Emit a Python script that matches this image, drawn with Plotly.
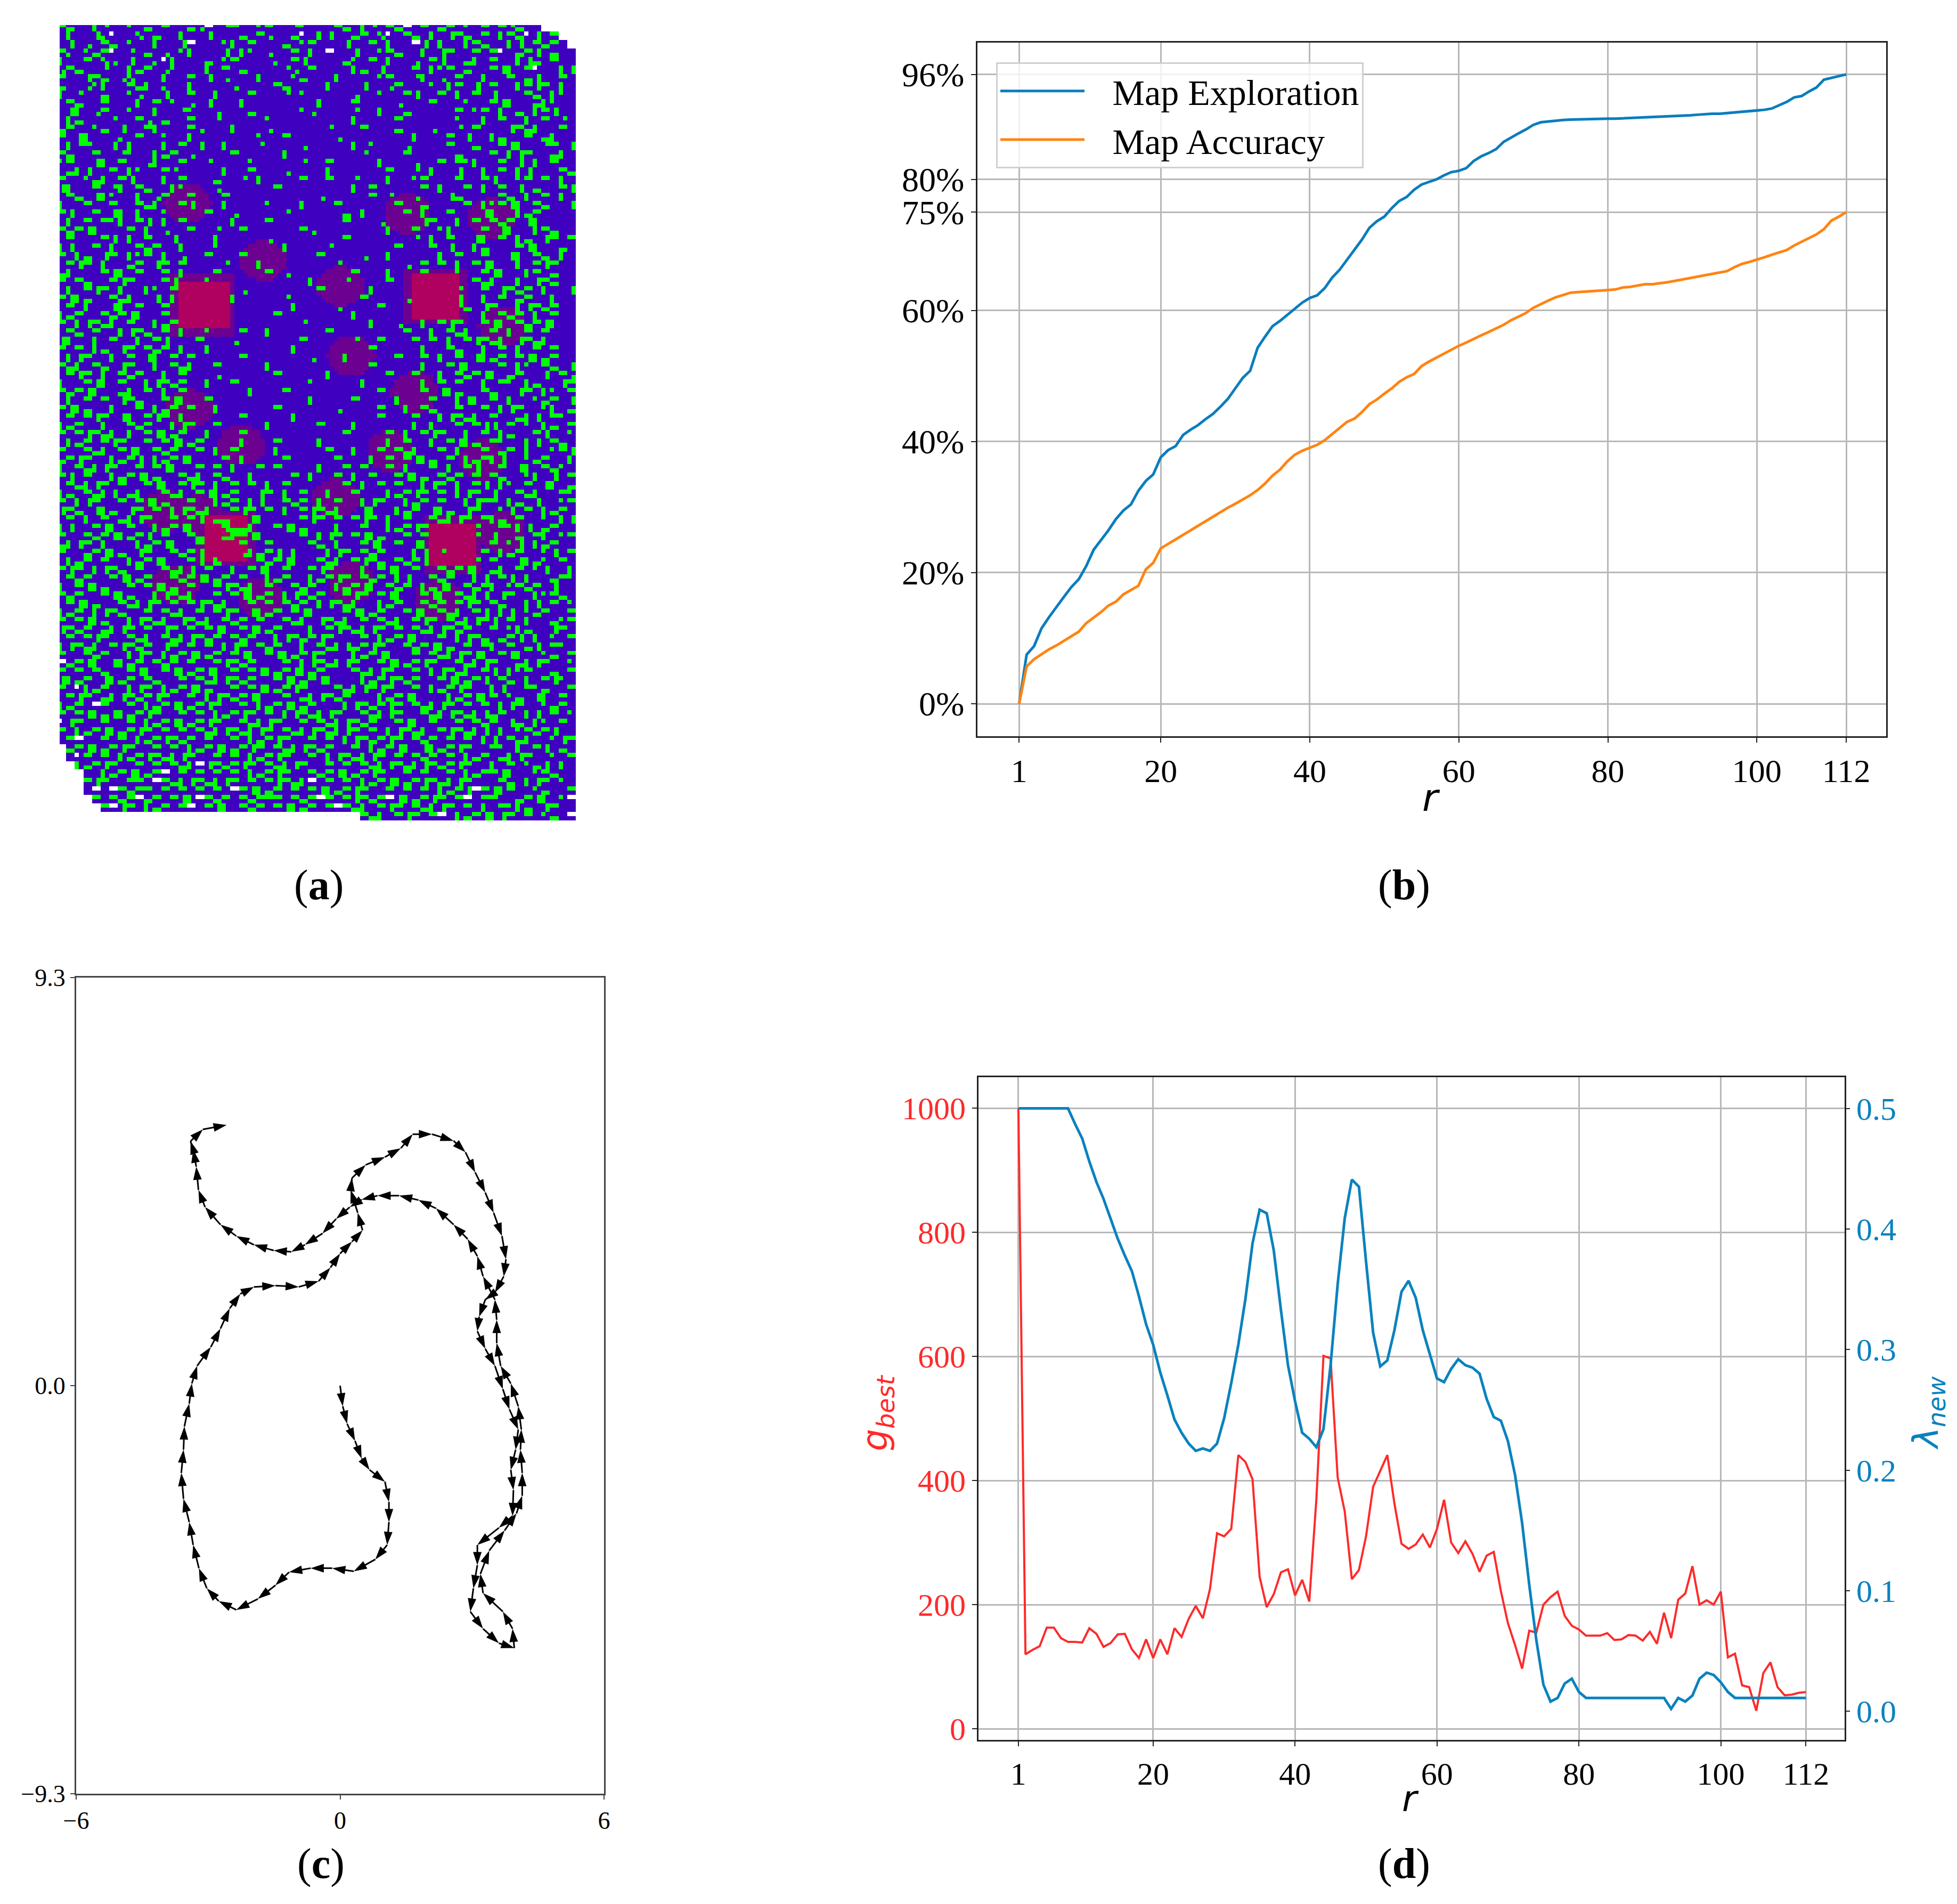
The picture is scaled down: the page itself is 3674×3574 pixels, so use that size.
import plotly.graph_objects as go

W, H = 3674, 3574
PAGE_MARGIN = 8  # the browser page sits the figure 8 px in from the corner

# ---------- panel (a): occupancy map, one hex digit per 2x2 block of cells ----------
# bits: 8 upper-left, 4 upper-right, 2 lower-left, 1 lower-right; w / x = white cell(s)
map_rows = [
"C300A4008030C0031x04C008C0048000C30A40C3x0C03C080C0C4300C0C3",
"0A0052w0090300A00500030C1003w0A5003C09w0C30A05C30C0AC3w50C0A",
"05010C30800A005x0008A0C000308C000500C0A00x50A00AC300A50C3C00",
"C2083Cw04030108A00050A80100C0A0x005008C300A05C00C0Cw03C50300",
"A00C09105002wA000308C000020C50000380C0A0010C5003A0C00A530C00",
"1C300400A3C018000A0C030000410C0000A305000C0A8C0300C5A0Cw00A5",
"C005C3019000A00C0501000A00083000A00008C004A010C00A00C03500C0",
"30018A00C3A0200A000010000C30000A0005001C00080AC050C00AC5C0A0",
"A04003008100500C00A000C00040800000100800C500C0A0C05000C30A80",
"0C300C000A0C080105000A00000000A000C00001000C000800C5A003A800",
"05A01C00800A0048001000300000810000400A00300000C08C0A030AC500",
"0A3000400C10300C004000008000000000A0000C000000800A0C00A0C040",
"3C00830500CA000C1000A00010000004000C000300010040C0005C3A00C0",
"C05A00020C00800A0000000800C00000100000000A000C0500A300C03A00",
"0A4C0050A000A0C0500A00040000100000A0800010000C00300C5A004C05",
"C300C004800A3C010000C00000A0000000040000C000003000C0A5C003A0",
"8C005A0C001A00C0040000800000400C00000A000100C0C8A00C050A0C00",
"03A500C0A800C400000A00C00010000A000000C0040A00500A0C0A5000C3",
"C0083A0C5000A0C00030040A0000C00C004000A008C000C00C5008C0C0A0",
"5A00C04A0C300A80001000000C00000000A0C00000C0A00C0A0C050300C5",
"0C305A800A01C00C000C0000000000100000C04001000530000C30A0C0A0",
"A00C00C00C3A00C5000A00008000A000C000000C0030000C0A8C5A0C3005",
"C500C05A0A0080000C00100000400000030A0000C0A00C0005A00A3C0000",
"0A0C0C8A0C50A0C00000A000C00000000C000100005C00A0C0C3C05A0000",
"C3C5A000C0A0100C00400C000000C100000000A00C008A000C05A00AC300",
"0C000C50A0C0050000A00000100000000C000000040A0C005A0C0A305C0C",
"A500C0A00C3C00A00080000000A000040000000C000C0500A3000C5A0030",
"C0A305C0A8C0A0100C000C00000000C0000100A00000A0C00C005A0C30A0",
"0C5C0A003C05C0C00004000A000000004000000010C0C0A0C5A00A0C5C00",
"3A000C5A0C00C0A000C00000C010000000C000A000C300A00C5A00AC0300",
"C0C300C5C000C5000A00000000000A00040000C0000C0A00C3A00A05C300",
"0A0C5C0A00A80C000C000100000000C00000A00000A0C0C00C05C3C0A005",
"C5A300C3A0050A000000A00000400000000C0000100C0A500A0C03C00A00",
"0C0A005A0C00C0000C000000000A000010000C000A00C0C305C00A5C3C00",
"A3C00C3C5A00C0A0008000000C00000000A000000C0C00A00A0C3C0A0C00",
"C0A5C3A0C00A3C0C00A00000000040000000A00100A0C5C00C5A0C3C5A00",
"0C30C00A5C30C0A000000C00A000000C00000000C00A0C3A00C0A0C0C000",
"5A00A0C00A0C5000C00010000000C00000400C000C0C0A0C5C3A05C3A000",
"C0C0A305C0C3C0A00A000000000A00000000C00000A00C300A0C0A0C0C00",
"0A5C00A0C05A0C0C00000C00000001000A00000C00C0A0C05A3C0C5A3C00",
"C3A0C305C00A0C3A00C00000A00000000000C00000A00C5A00C0A0C0C0A0",
"0C5C0A0C3C00A0C0001000000C00000A000000C00C00A0C3C5C03A0C5A00",
"A00C5A0C00A5C3C00A00C00000000800000A000000A0C0C00A05C0C0C300",
"C3C5A003A0C0A0C0000000A000C0000000000C0000C05A300C3C0A3C0A00",
"0A0C0C05C300C5A00C00000000000A0000C0000A000C00A5A0C5C0C0C500",
"C5A300A00C0A3C0C00A000000C00000010000C00A0C300C00C0A3C5A0C00",
"0C0C5C05A0C5C0A000000C00000A000000000C000C00A5C3A0C00A0C3000",
"A3C00A00C3C00A5C00C00000A00000C000A000000A0A00C0C5A35C00C000",
"C0C5C3A0A0C5A3C00A000C00000000000C0000C0A0C5C00A0C0C0A0C3A50",
"0A3C0C5C00C0C5A3C0000A000C0000A0000000A0C00A0C5A305C0A0C0000",
"C00C3A0C5A0C3C00C0A0C0000A00000C00A00C0C3A00C0A00C0C5A3C0000",
"3C5C00A3C50A3C5A000C0A0000C00000C000A0C0C5A30C0A3C0C0C5A0000",
"A0C3A5C00C0C5A00C0C0A00C0C0000A00C0C00C0A00C0A0C50A5C3C0C000",
"C50C00A3C5A300C3A0C300A0000C0A00C0A0C00C5A30C3C0C0C3C0A0C500",
"0C3A5C0C00C5A0C5C0A0C0C0A0C000000C0A0C0C00A5C0A0C5A0C5C3A000",
"A30C3A503A00C3A0C5A3C005C0A0C00A00C000A3C5C0C0A5C0C3A0C0C500",
"C0A5C00C0C5A300C00A3C0A500C3C0A0C00A5C00A3C0C00A5C0A3C5C0000",
"5C305A305C0C0A5C3A00C5C0C0A0C5C3A005A00A3C05A305C0C3C0C0A300",
"0C0A0C03A5C00C0C5A0C3C5A0000C5C0C0C5C0A0C00C3A5C0C5A3C0A0000",
"A500C5A0C00A3C5A00C0C3A00C5A3000A00C00A3C5C0A5C3C0C3A0C0C5C0",
"C00C3C5A3C50C00C3A5C0C5A0000C0A5C0C5A300C0C0A0A5C0C3C5A0C000",
"3A5C0A000A3C5A00C0C3C000C0000C30A00C5A0C05A3C0C3A0C00A3C0000",
"C003C5A305C00C3C5A00C0A3C50A000A5C0C3C000A5C0C5A0C5C3A5C0C00",
"0A3C0C00A3C5A00C5C3C000C3C5A00C3A0C5C30C3C5A00C3C0C0A3C5A000",
"C5C0A5C30C00C3A50C00A0C5A0C00C5C000A0C5A0C00C3C5A0C5A3C00C00",
"0C3C00C5A3C00C3C5A3C0C00A3C00A3C5C0C3C0A500C3C00A5C3A00C0000",
"A0C5A300C0C5A30C00C5C3A0C00C3C00A3C5A0C3C0A35A0C3C00C5A30000",
"C3C00C5A300A5C3A00C0C5A3C0A5C3C00C5C0C5A00C5A0C3A5C00C00C000",
"0C5A300C3A5C0C0C5C3A00C0C0C3C0A5C3A00A3C00C3C0C5C00A3C5A0000",
"A3C0A5C300C0C3A0C0C5C05A3C0C5A000C5A3C00C5A0C3A0C5C00C300000",
"C0C5A300A5C3A05C3A0C3C0C00C3A05C3A0C0C3A0C5C0C3A5C3C00000C00",
"5C3C03A5C0C05C0C0C5A0C5A3C000A0C5C3A5C0C0C3A5C3C00A3C0000000",
"0C0C5C00C3A0C3A5C3C0C3C00A5C3C5C000C0A3C5A00C0A5C3A5C0C00000",
"A5C3A0C5C3C05C0C0C0A5C0C3C00A0C3A53C5C00C3C5A30C0C3A50000C00",
"C00C3C00A5C0A3C5A3C0C5A0C5A3C5C000A3C5A00C0C3A5C5A0C000C0000",
"x3C5A05A3C0C3C0C00C5C3C000C0A5C3A5C00C5A3C5C00C3A5C0000x0000",
"C0C0C300C5A0C5A3C5A0C0C5A3C5A3C000C3A5C00C0A5C3A0C0C0C300000",
"5A3C05A3C0C300C0C3A5C3C00C5A3C5A000A3C5C3C00C5A3C5A000000000",
"C0wA3C00A5C0A3C5A300C0C5A3C5C000C3A5C5C00C0A3C5C00C0C0000000",
"0C5C03A5C3C5C00C0A5C3C5A00C03A5C3C000A3C5A000A3C5A3C00000000",
"A3C0xC00C0A3C5A3C5C00C0A3C5A3C000A5C3C5C0C3A5C0C0C0A00000000",
"C0C5A35A3C5C00C0C0A3C5C0C0A5C3A5C00C3A5C00C3A5C3A5C000000000",
"w5C00C00C0A3C5A3C5C00C3A5C00C0C3A5C3C00C5A0C00C0C3Cw00000000",
"C0A3C5A3C5C0C0C0C3A5C3A5C0C3A5C3A5C0C0A5C3A0C5C3A5C00C0A0000",
"0Cx00C0C0A3C5C3C0C00C0A3C5C00C0C0A5C3C5C0C3C0C0C0A3C5Cw00000",
"A3C5A3C5C00C0C0A3C5A3C5C0C3A5C3C00C0A3C5A05A3C5C00C000000000",
"C0wC0C0A3C5C3A5C00C0C0A3C5C00C0A5C3A5C0C0C3C0C0A3C5A3x000000",
"x5A3C5C00C0C0C3Ax5C3C5C0C3A5C00C0C0C3A5C3A5C3C5C00C0C0000000",
"C0C00A3C5A3Cx0C0C0C0C0A3C5C00C3C5A3C5C00C0C00C0A3C5C3A5w0000",
"0CwC5C00CC0xC3A5C3A5C0C0C5C3Ax0C0C0A3C5A3C5C3A5C00C0xC0C0000",
"A3C0x0xC3CC0C0C0C0C0xC5A3C0C0C5A3C5C00C0C0C0A3C5xC5A3C000000",
"C0C5C0C3Cx3C0C5AxC3C0C3CCC0C3CxC0C5C3Cx5A3C5C0Cx0C0C0C0xC500",
"0C3A0Cx5C0A3C0Cx0C5A0C3C0C5A3C0CxC3A0C5C0C3A5C0C0A3C0x5C3A00",
"C5A3C0C3C0x5C3A0C0C3Cx0C5C0C0A5C3C0C3A0C5C0Cx0A3C5C0C3A0C000",
]
# right-hand ten blocks of rows 40 to 93, replacing the tails above
map_tails = [
"0C0A80C305", "A03C0050C1", "0C80A3005C", "3005C0A80C", "C0A0083C05", "0A5C008A03", "C003A50C80", "50C080A30C",
"0A300C5008", "C800A50C30", "03C0A008C5", "A50083C00A", "0C05A0C380", "C3008A050C", "0A80C05A03", "500C3A00C8",
"C0A305008C", "0850C0A3C0", "A30C0080A5", "0C8A503C00", "50030CA08C", "C0850A3C00", "0A3C00850C", "C005A380C0",
"3A0C08500A", "0C50A003C8", "A08C3C0500", "05C00A8C30", "C300A50C08", "0A5083C00C", "50C0A0038C", "C08A3005C0",
"03C50A080C", "A0C0350C80", "0C5A00830C", "C003A5C008", "50A8C0030C", "0C30A0C580", "A500C8300C", "C08305A0C0",
"0A5C0083C0", "3C00A50C08", "C0530A80C0", "0A08C3C500", "50C3A0085C", "C80A0C5030", "03A5C0080C", "A0C08350A0",
"C5A008C300", "0C30A5C080", "5AC008300C", "C003C5A08x", "0C8A305C00", "A5C0C0830x",
]

# columns (in 2-cell blocks) blanked at each end of a row
blank_right = {0: 56, 1: 58, 2: 59}
blank_left = {85: 1, 86: 1, 87: 2, 88: 3, 89: 3, 90: 3, 91: 4, 92: 5, 93: 35}

# red obstacle patches: centre column, centre row, half width, half height (in cells)
obstacle_big = [(33.8, 66.5, 5.8, 5.5), (87.5, 64.5, 5.8, 5.2), (39, 121.5, 5.3, 5.3), (91.5, 123, 5.3, 5.3)]
obstacle_dim = [(30, 42.5), (81, 45), (100.5, 46), (47.7, 56), (65.5, 62), (103, 71.5), (68, 78.5),
                (82.8, 87), (30.3, 91), (42.5, 99.6), (77, 101), (98.5, 103), (64.5, 112), (25, 115),
                (103, 120), (27.5, 132.4), (68, 132), (47, 135.7), (88, 136), (32.5, 116)]
# green cells lying on the patches: row, first column, run length
green_on_patch = [(117, 36, 4), (118, 38, 2), (119, 39, 5), (120, 40, 4), (121, 38, 3), (122, 42, 2), (126, 36, 1),
                  (125, 43, 1), (124, 89, 1), (72, 34, 1)]

# ---------- panel (b) ----------
rounds = list(range(1, 113))
map_exploration = [0, 7.5, 8.8, 11.5, 13.2, 14.8, 16.3, 17.8, 19, 21, 23.5, 25, 26.5, 28.2, 29.5, 30.4, 32.5, 34, 35, 37.6,
    38.7, 39.3, 41, 41.8, 42.5, 43.4, 44.2, 45.3, 46.5, 48.1, 49.7, 50.8, 54.3, 56, 57.6, 58.4, 59.3, 60.2, 61.2, 61.9,
    62.3, 63.4, 65, 66.2, 67.7, 69.2, 70.8, 72.6, 73.6, 74.3, 75.6, 76.7, 77.3, 78.4, 79.2, 79.6, 80, 80.6, 81.1, 81.3,
    81.7, 82.8, 83.5, 84, 84.6, 85.7, 86.4, 87, 87.6, 88.3, 88.7, 88.85, 89, 89.05, 89.1, 89.15, 89.2, 89.2, 89.2, 89.25,
    89.25, 89.3, 89.35, 89.35, 89.4, 89.45, 89.45, 89.5, 89.6, 89.65, 89.75, 89.85, 89.95, 90, 90, 90.1, 90.15, 90.3,
    90.35, 90.4, 90.6, 90.8, 91.3, 91.8, 92.5, 92.7, 93.4, 94, 95.2, 95.5, 95.8, 96]
map_accuracy = [0, 5.7, 6.8, 7.6, 8.3, 8.9, 9.6, 10.2, 11, 12.3, 13.1, 14, 15, 15.6, 16.7, 17.4, 18, 20.5, 21.5, 23.7,
    24.4, 25, 25.7, 26.4, 27.1, 27.8, 28.6, 29.3, 29.9, 30.5, 31.1, 31.8, 32.6, 33.6, 34.8, 35.7, 37, 38, 38.6, 39,
    39.5, 40.2, 41.1, 42.1, 43, 43.5, 44.5, 45.7, 46.4, 47.3, 48.1, 49.1, 49.8, 50.3, 51.5, 52.2, 52.8, 53.5, 54, 54.6,
    55.1, 55.7, 56.2, 56.7, 57.2, 57.8, 58.5, 59, 59.6, 60.4, 61, 61.5, 62, 62.4, 62.7, 62.8, 62.85, 62.9, 63, 63.1,
    63.2, 63.5, 63.6, 63.8, 64, 64, 64.1, 64.3, 64.5, 64.7, 65, 65.2, 65.3, 65.5, 65.7, 66, 66.6, 67.1, 67.4, 67.7,
    68.1, 68.5, 68.9, 69.2, 69.9, 70.5, 71, 71.6, 72.4, 73.7, 74.3, 75]

# ---------- panel (d) ----------
g_best = [1000, 120, 127, 133, 163, 163, 146, 140, 140, 139, 162, 153, 132, 138, 152, 153, 128, 114, 144, 114, 144, 120,
    162, 148, 177, 198, 178, 225, 315, 310, 322, 441, 430, 402, 245, 196, 217, 252, 257, 215, 240, 205, 370, 601, 597,
    405, 350, 241, 256, 310, 390, 415, 441, 363, 298, 290, 297, 313, 292, 322, 369, 300, 283, 302, 282, 253, 279, 285,
    222, 170, 135, 97, 158, 155, 200, 212, 221, 182, 166, 160, 150, 150, 150, 154, 143, 144, 151, 150, 142, 156, 137,
    187, 146, 208, 218, 262, 200, 207, 200, 221, 115, 121, 70, 67, 29, 90, 107, 67, 54, 55, 58, 59]
lambda_new = [.5, .5, .5, .5, .5, .5, .5, .5, .487, .475, .456, .439, .425, .409, .392, .378, .365, .344, .321, .304,
    .281, .262, .242, .231, .222, .216, .218, .216, .222, .243, .272, .304, .342, .388, .416, .413, .382, .333, .287,
    .257, .231, .226, .219, .234, .287, .354, .409, .441, .435, .373, .314, .286, .291, .316, .348, .357, .343, .316,
    .295, .276, .273, .284, .292, .287, .285, .280, .259, .244, .241, .224, .196, .156, .105, .059, .022, .008, .011,
    .023, .027, .016, .011, .011, .011, .011, .011, .011, .011, .011, .011, .011, .011, .011, .002, .011, .008, .013,
    .027, .032, .030, .024, .016, .011, .011, .011, .011, .011, .011, .011, .011, .011, .011, .011]

# ---------- panel (c) ----------
path_x = [0, .06, .16, .34, .49, .67, 1.02, 1.11, 1.11, 1.07, .80, .31, -.18, -.67, -1.16, -1.47, -1.87, -2.36, -2.76,
    -3.03, -3.21, -3.34, -3.43, -3.56, -3.61, -3.56, -3.54, -3.43, -3.37, -3.25, -2.94, -2.72, -2.51, -2.27, -1.96,
    -1.47, -.94, -.49, -.22, 0, .27, .51, .40, .24, .27, .58, 1.02, 1.38, 1.65, 2.09, 2.58, 2.85, 3.07, 3.30, 3.49,
    3.68, 3.77, 3.72, 3.52, 3.30, 3.16, 3.12, 3.30, 3.52, 3.70, 3.85, 4.05, 3.99, 3.88, 3.94, 3.92, 3.61, 3.12, 3.12,
    3.03, 2.96, 3.25, 3.61, 3.96, 3.92, 3.70, 3.25, 3.19, 3.39, 3.74, 4.01, 4.14, 4.14, 4.10, 4.12, 4.05, 3.88, 3.65,
    3.56, 3.56, 3.52, 3.25, 3.12, 2.90, 2.58, 2.18, 1.78, 1.34, .85, .49, .22, -.09, -.40, -.80, -1.11, -1.51, -1.96,
    -2.36, -2.72, -3.07, -3.22, -3.27, -3.34, -3.40, -3.12, -2.58]
path_y = [0, -.47, -.87, -1.26, -1.66, -1.92, -2.19, -2.65, -3.11, -3.63, -3.96, -4.23, -4.16, -4.16, -4.25, -4.55,
    -4.86, -5.11, -4.91, -4.62, -4.16, -3.63, -3.11, -2.58, -1.99, -1.46, -.93, -.41, .05, .45, .88, 1.30, 1.76, 2.09,
    2.25, 2.28, 2.25, 2.38, 2.69, 3.01, 3.28, 3.54, 3.94, 4.46, 4.73, 5.03, 5.21, 5.41, 5.73, 5.73, 5.58, 5.32, 4.86,
    4.40, 3.94, 3.41, 2.88, 2.49, 2.12, 1.96, 1.57, 1.24, .84, .45, -.08, -.54, -1.00, -1.46, -1.92, -2.38, -2.97,
    -3.24, -3.63, -4.09, -4.62, -5.15, -5.54, -5.87, -5.98, -5.54, -5.15, -4.73, -4.29, -3.76, -3.30, -2.91, -2.51,
    -1.99, -1.46, -1.00, -.47, .05, .45, .97, 1.50, 1.96, 2.49, 2.95, 3.34, 3.67, 4.04, 4.23, 4.33, 4.33, 4.24, 4.07,
    3.80, 3.47, 3.21, 3.05, 3.08, 3.21, 3.41, 3.67, 4.07, 4.46, 4.99, 5.38, 5.57, 5.84, 5.94]

r_ticks = [1, 20, 40, 60, 80, 100, 112]
b_ticks = [0, 20, 40, 60, 75, 80, 96]
d_left_ticks = [0, 200, 400, 600, 800, 1000]
d_right_ticks = [0.0, 0.1, 0.2, 0.3, 0.4, 0.5]

SERIF = "Liberation Serif"
BLUE_B, ORANGE = "#0A7DBE", "#FF8412"
RED, BLUE_D = "#FF2A2A", "#0A82BE"
GRID = "#B8B8B8"

# decode map
NR, NC = 188, 120
z = [[1] * NC for _ in range(NR)]
for cx, cy in obstacle_dim:
    for r in range(NR):
        for c in range(NC):
            if ((c + .5 - cx) / 5.5) ** 2 + ((r + .5 - cy) / 4.8) ** 2 <= 1:
                z[r][c] = 2
for cx, cy, hw, hh in obstacle_big:
    for r in range(NR):
        for c in range(NC):
            if abs(c + .5 - cx) <= hw + 1.5 and abs(r + .5 - cy) <= hh + 1.5:
                z[r][c] = 2
full_rows = list(map_rows)
for i, tail in enumerate(map_tails):
    full_rows[40 + i] = full_rows[40 + i][:50] + tail
for br, row in enumerate(full_rows[:NR // 2]):
    for bc, ch in enumerate(row[:NC // 2]):
        r0, c0 = br * 2, bc * 2
        if ch == "w":
            z[r0][c0] = 0
        elif ch == "x":
            z[r0][c0] = 0
            z[r0][c0 + 1] = 0
        else:
            v = int(ch, 16)
            if v & 8: z[r0][c0] = 4
            if v & 4: z[r0][c0 + 1] = 4
            if v & 2: z[r0 + 1][c0] = 4
            if v & 1: z[r0 + 1][c0 + 1] = 4
for cx, cy, hw, hh in obstacle_big:
    for r in range(NR):
        for c in range(NC):
            if abs(c + .5 - cx) <= hw and abs(r + .5 - cy) <= hh:
                z[r][c] = 3
for r, c, n in green_on_patch:
    for k in range(n):
        z[r][c + k] = 4
for br, bc in blank_right.items():
    for r in (br * 2, br * 2 + 1):
        for c in range(bc * 2, NC):
            z[r][c] = 0
for br, bc in blank_left.items():
    for r in (br * 2, br * 2 + 1):
        for c in range(0, bc * 2):
            z[r][c] = 0


def xd(a, b):
    return [(a - PAGE_MARGIN) / W, (b - PAGE_MARGIN) / W]


def yd(top, bottom):
    return [1 - (bottom - PAGE_MARGIN) / H, 1 - (top - PAGE_MARGIN) / H]


fig = go.Figure()

fig.add_trace(go.Heatmap(
    z=z, xaxis="x", yaxis="y", showscale=False, zmin=0, zmax=5, zsmooth=False,
    colorscale=[[0, "#FFFFFF"], [.2, "#FFFFFF"], [.2, "#4000C0"], [.4, "#4000C0"], [.4, "#6C0090"], [.6, "#6C0090"],
                [.6, "#B00060"], [.8, "#B00060"], [.8, "#00FF00"], [1, "#00FF00"]]))

fig.add_trace(go.Scatter(x=rounds, y=map_exploration, mode="lines", name="\u2002\u2009Map Exploration",
                         line=dict(color=BLUE_B, width=5), xaxis="x2", yaxis="y2"))
fig.add_trace(go.Scatter(x=rounds, y=map_accuracy, mode="lines", name="\u2002\u2009Map Accuracy",
                         line=dict(color=ORANGE, width=5), xaxis="x2", yaxis="y2"))

fig.add_trace(go.Scatter(x=path_x, y=path_y, mode="lines+markers", showlegend=False,
                         line=dict(color="black", width=3),
                         marker=dict(symbol="arrow", size=26, angleref="previous", color="black", line=dict(width=0)),
                         xaxis="x3", yaxis="y3"))

fig.add_trace(go.Scatter(x=rounds, y=g_best, mode="lines", showlegend=False,
                         line=dict(color=RED, width=4), xaxis="x4", yaxis="y4"))
fig.add_trace(go.Scatter(x=rounds, y=lambda_new, mode="lines", showlegend=False,
                         line=dict(color=BLUE_D, width=5), xaxis="x4", yaxis="y5"))

frame = dict(showline=True, linecolor="#222222", linewidth=3, mirror=True, zeroline=False)
grid = dict(showgrid=True, gridcolor=GRID, gridwidth=3, ticks="outside", ticklen=9, tickwidth=2, tickcolor="#222222")

fig.update_layout(
    width=W, height=H, margin=dict(l=0, r=0, t=0, b=0, autoexpand=False), paper_bgcolor="white", plot_bgcolor="white",
    font=dict(family=SERIF, color="black", size=60),
    showlegend=True,
    legend=dict(x=(1870 - PAGE_MARGIN) / W, y=1 - (117 - PAGE_MARGIN) / H, xanchor="left", yanchor="top",
                bgcolor="rgba(255,255,255,0.8)", bordercolor="#D0D0D0", borderwidth=3,
                font=dict(family=SERIF, size=68), itemwidth=158),
    xaxis=dict(domain=xd(112, 1085), range=[0, NC], visible=False),
    yaxis=dict(domain=yd(47, 1544), range=[NR, 0], visible=False),
    xaxis2=dict(domain=xd(1835, 3541), range=[-4.6, 117.35], tickvals=r_ticks, tickfont=dict(size=62),
                anchor="y2", **frame, **grid),
    yaxis2=dict(domain=yd(80, 1382), range=[-4.95, 100.85], tickvals=b_ticks,
                ticktext=[f"{t}%" for t in b_ticks], tickfont=dict(size=64), anchor="x2", **frame, **grid),
    xaxis3=dict(domain=xd(143, 1134), range=[-6, 6], tickvals=[-6, 0, 6], ticktext=["\u22126", "0", "6"],
                tickfont=dict(size=46), anchor="y3", showgrid=False, ticks="outside", ticklen=8, tickwidth=2,
                showline=True, linecolor="#444444", linewidth=3, mirror=True, zeroline=False),
    yaxis3=dict(domain=yd(1835, 3367), range=[-9.3, 9.3], tickvals=[-9.3, 0, 9.3],
                ticktext=["\u22129.3", "0.0", "9.3"], tickfont=dict(size=46), anchor="x3", showgrid=False,
                ticks="outside", ticklen=8, tickwidth=2, showline=True, linecolor="#444444", linewidth=3,
                mirror=True, zeroline=False),
    xaxis4=dict(domain=xd(1837, 3463), range=[-4.62, 117.45], tickvals=r_ticks, tickfont=dict(size=60),
                anchor="y4", **frame, **grid),
    yaxis4=dict(domain=yd(2022, 3266), range=[-18, 1050], tickvals=d_left_ticks, tickfont=dict(size=60, color=RED),
                anchor="x4", **frame, **grid),
    yaxis5=dict(domain=yd(2022, 3266), range=[-0.0238, 0.5259], tickvals=d_right_ticks,
                ticktext=[f"{t:.1f}" for t in d_right_ticks], tickfont=dict(size=60, color=BLUE_D),
                overlaying="y4", side="right", anchor="x4", showgrid=False, zeroline=False, ticks="outside",
                ticklen=9, tickwidth=2, tickcolor="#222222"),
)


def note(x, y, text, size, family=SERIF, color="black", angle=0):
    fig.add_annotation(x=(x - PAGE_MARGIN) / W, y=1 - (y - PAGE_MARGIN) / H, xref="paper", yref="paper", text=text,
                       showarrow=False, font=dict(family=family, size=size, color=color), textangle=angle,
                       xanchor="center", yanchor="middle")


note(598, 1661, "(<b>a</b>)", 80)
note(2636, 1661, "(<b>b</b>)", 80)
note(602, 3498, "(<b>c</b>)", 80)
note(2636, 3498, "(<b>d</b>)", 80)
note(2687, 1497, "<i>r</i>", 72, "DejaVu Sans")
note(2648, 3376, "<i>r</i>", 68, "DejaVu Sans")
note(1647, 2652, "<i>g<sub>best</sub></i>", 66, "DejaVu Sans", RED, -90)
note(3620, 2652, "<i>\u03bb<sub>new</sub></i>", 66, "DejaVu Sans", BLUE_D, -90)

fig.write_html("out.html")
